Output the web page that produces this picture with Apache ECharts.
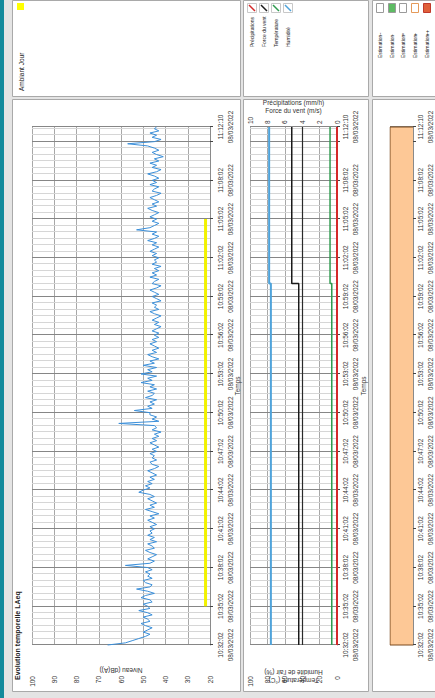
<!DOCTYPE html>
<html>
<head>
<meta charset="utf-8">
<script src="https://cdn.jsdelivr.net/npm/echarts@6/dist/echarts.min.js"></script>
<style>
  html, body { margin: 0; padding: 0; width: 435px; height: 698px; overflow: hidden; background: #e4e4e4; }
  /* the dashboard is laid out in landscape and turned a quarter turn */
  #board { position: absolute; left: 0; top: 0; width: 698px; height: 435px;
           transform-origin: 0 0; transform: translate(0, 698px) rotate(-90deg); }
</style>
</head>
<body>
<div id="board"></div>
<script>
// ---- time base -------------------------------------------------------
const DAY = '08/03/2022';
const T0 = 10 * 3600 + 32 * 60 + 2;     // 10:32:02
const T_END = 2408;                      // 11:12:10, seconds after T0
const LAEQ_STEP = 10;                    // LAeq sampling step (s)
const TICK_STEP = 180;                   // one grid line every 3 min
const labelSeconds = [0, 180, 360, 540, 720, 900, 1080, 1260, 1440, 1620, 1800, 1980, 2160, 2408];

// ---- LAeq, dB(A), one value every 10 s from 10:32:02, last at 11:12:10 --
const laeqDb = [
  66, 58, 55, 52, 49, 47, 50, 48, 46, 49, 51, 47, 48, 50, 46, 48, 52, 47,
  48, 50, 46, 47, 51, 49, 45, 48, 53, 47, 46, 49, 50, 46, 48, 47, 49, 46,
  48, 58, 47, 45, 48, 46, 44, 47, 49, 45, 46, 48, 44, 47, 45, 48, 46, 47,
  45, 47, 44, 46, 48, 45, 47, 43, 46, 49, 45, 47, 44, 46, 48, 45, 47, 52,
  50, 47, 49, 46, 48, 45, 47, 44, 46, 48, 45, 43, 46, 47, 44, 46, 45, 47,
  44, 46, 43, 45, 47, 44, 46, 43, 45, 42, 46, 44, 45, 61, 43, 46, 44, 47,
  47, 54, 46, 48, 45, 47, 44, 49, 46, 45, 48, 44, 47, 45, 51, 46, 48, 44,
  51, 46, 48, 44, 50, 45, 47, 43, 46, 48, 44, 46, 43, 45, 47, 44, 46, 43,
  45, 43, 46, 44, 42, 45, 43, 46, 44, 42, 45, 47, 43, 45, 44, 46, 42, 44,
  46, 43, 45, 47, 44, 42, 46, 45, 43, 47, 44, 46, 43, 45, 42, 46, 44, 45,
  43, 46, 44, 47, 45, 43, 46, 44, 48, 45, 43, 46, 44, 53, 47, 45, 43, 46,
  44, 47, 45, 43, 46, 48, 44, 46, 43, 45, 47, 44, 42, 46, 45, 43, 47, 44,
  46, 43, 45, 48, 44, 42, 46, 44, 47, 43, 45, 41, 44, 46, 43, 45, 48, 57,
  45, 42, 46, 44, 47, 43, 45,
  44
];
// "Ambiant Jour" period marker
const jourPeriod = [180, 1980];
const jourLevel = 22;

// ---- weather, sampled at changes ------------------------------------
const meteoSeconds = [0, 1680, 2408];
const precipitations = [0, 0, 0];        // mm/h
const forceVent = [4.4, 5.2, 5.2];       // m/s
const temperature = [6, 8, 8];           // °C
const humidite = [76, 78, 78];           // %
const ventReference = 4;                 // m/s, dark reference line

// ---- estimation band ------------------------------------------------
const estimationSeconds = [0, 0, 2408, 2408];
const estimationLevel = [0, 1, 1, 0];

// ---- helpers --------------------------------------------------------
const FONT = 'Liberation Sans, Arial, sans-serif';
const pad = n => String(n).padStart(2, '0');
function clock(sec) {
  const s = T0 + Math.round(sec);
  return pad(Math.floor(s / 3600)) + ':' + pad(Math.floor(s % 3600 / 60)) + ':' + pad(s % 60);
}
const zip = (xs, ys) => xs.map((x, i) => [x, ys[i]]);
const laeqPoints = laeqDb.map((v, i) => [i === laeqDb.length - 1 ? T_END : i * LAEQ_STEP, v]);

function timeAxis(gridIndex, labelMargin, nameGap) {
  return {
    type: 'value', gridIndex, min: 0, max: T_END, interval: TICK_STEP,
    axisLine: { show: true, lineStyle: { color: '#8a8a8a', width: 1 } },
    axisTick: { show: true, length: 3, lineStyle: { color: '#444' } },
    axisLabel: {
      customValues: labelSeconds,
      formatter: v => clock(v) + '\n' + DAY,
      fontSize: 6.5, fontFamily: FONT, color: '#333', lineHeight: 10, margin: labelMargin
    },
    splitLine: { show: true, lineStyle: { color: '#868686', width: 1 } },
    minorTick: { show: false, splitNumber: 6 },
    minorSplitLine: { show: true, lineStyle: { color: '#d6d6d6', width: 1 } },
    name: nameGap ? 'Temps' : '', nameLocation: 'middle', nameGap: nameGap || 0, nameMoveOverlap: false,
    nameTextStyle: { fontSize: 6.5, fontFamily: FONT, color: '#333' }
  };
}
function valueAxis(gridIndex, opts) {
  return Object.assign({
    type: 'value', gridIndex,
    axisLine: { show: false }, axisTick: { show: false },
    axisLabel: { fontSize: 6.5, fontFamily: FONT, color: '#333' },
    splitLine: { show: true, lineStyle: { color: '#a8a8a8', width: 1 } },
    nameLocation: 'middle', nameMoveOverlap: false,
    nameTextStyle: { fontSize: 6.5, fontFamily: FONT, color: '#333', lineHeight: 8 }
  }, opts);
}

// ---- panels and legends (drawn as graphics) --------------------------
const panel = (x, y, w, h) => ({
  type: 'rect', z: -10, silent: true,
  shape: { x: x + 0.5, y: y + 0.5, width: w, height: h },
  style: { fill: '#ffffff', stroke: '#a9a9a9', lineWidth: 1 }
});
const label = (x, y, text, extra) => ({
  type: 'text', z: 50, silent: true, x, y,
  style: Object.assign({ text, fontSize: 6.5, fontFamily: FONT, fill: '#222', verticalAlign: 'middle' }, extra || {})
});
const meteoLegend = [
  ['Précipitations', '#d42a2a', 252],
  ['Force du vent', '#1a1a1a', 264],
  ['Température', '#2f9a4f', 276],
  ['Humidité', '#4fa3da', 288]
];
const estimationLegend = [
  ['--', '#ffffff', '#9a9a9a', 380],
  ['-', '#5dbb63', '#9a9a9a', 392],
  ['=', '#ffffff', '#9a9a9a', 403],
  ['+', '#ffffff', '#e59a5a', 415],
  ['++', '#e0603a', '#c0392b', 427]
];
const graphics = [
  { type: 'rect', z: -20, silent: true, shape: { x: 0, y: 0, width: 698, height: 4 }, style: { fill: '#138a9c' } },
  panel(6, 12, 592, 228), panel(601, 12, 96, 228),
  panel(6, 243, 592, 125), panel(601, 243, 96, 125),
  panel(6, 372, 592, 70), panel(601, 372, 96, 70),
  label(18, 17, 'Evolution temporelle LAeq', { fontWeight: 'bold', fontSize: 7 }),
  label(607, 21, 'Ambiant Jour'),
  { type: 'rect', z: 50, silent: true, shape: { x: 688, y: 17, width: 7, height: 7 }, style: { fill: '#ffff00' } }
];
meteoLegend.forEach(([name, color, y]) => {
  graphics.push(label(651, y, name, { fontSize: 5 }));
  graphics.push({ type: 'rect', z: 49, silent: true, shape: { x: 685.5, y: y - 4.5, width: 9, height: 9 }, style: { fill: '#fff', stroke: '#c8c8c8' } });
  graphics.push({ type: 'line', z: 50, silent: true, shape: { x1: 687, y1: y + 3, x2: 693, y2: y - 3 }, style: { stroke: color, lineWidth: 1.5 } });
});
estimationLegend.forEach(([grade, fill, stroke, y]) => {
  graphics.push(label(640, y, 'Estimation', { fontSize: 5 }));
  graphics.push(label(662, y, grade, { fontSize: 5 }));
  graphics.push({ type: 'rect', z: 50, silent: true, shape: { x: 685.5, y: y - 3.5, width: 9, height: 7 }, style: { fill, stroke, lineWidth: 1 } });
});

// ---- chart ----------------------------------------------------------
const chart = echarts.init(document.getElementById('board'), null, { renderer: 'svg', width: 698, height: 435 });
chart.setOption({
  animation: false,
  backgroundColor: '#e4e4e4',
  graphic: graphics,
  grid: [
    { left: 53, top: 32, width: 518, height: 178 },
    { left: 53, top: 250, width: 518, height: 87 },
    { left: 53, top: 390, width: 518, height: 25 }
  ],
  xAxis: [timeAxis(0, 5, 24), timeAxis(1, 3, 23), timeAxis(2, 2, 0)],
  yAxis: [
    valueAxis(0, { min: 20, max: 100, interval: 10, name: 'Niveau (dB(A))', nameGap: 21,
                   axisLabel: { fontSize: 6.5, fontFamily: FONT, color: '#333', margin: 31 } }),
    valueAxis(1, { min: 0, max: 100, interval: 20, name: 'Température (°C)\nHumidité de l\'air (%)', nameGap: 23,
                   axisLabel: { fontSize: 6.5, fontFamily: FONT, color: '#333', margin: 31 } }),
    valueAxis(1, { min: 0, max: 10, interval: 2, position: 'right', splitLine: { show: false },
                   name: 'Précipitations (mm/h)\nForce du vent (m/s)', nameGap: 13, nameRotate: -90,
                   axisLabel: { fontSize: 6.5, fontFamily: FONT, color: '#333', margin: 3 } }),
    valueAxis(2, { min: 0, max: 1, show: false, splitLine: { show: false } })
  ],
  series: [
    { name: 'LAeq', type: 'line', xAxisIndex: 0, yAxisIndex: 0, data: laeqPoints, showSymbol: false,
      lineStyle: { color: '#3b8fd9', width: 1 }, z: 5 },
    { name: 'Ambiant Jour', type: 'line', xAxisIndex: 0, yAxisIndex: 0, showSymbol: false,
      data: jourPeriod.map(s => [s, jourLevel]), lineStyle: { color: '#f2f200', width: 3 }, z: 4 },
    { name: 'Humidité', type: 'line', step: 'end', xAxisIndex: 1, yAxisIndex: 1, showSymbol: false,
      data: zip(meteoSeconds, humidite), lineStyle: { color: '#4fa3da', width: 2 } },
    { name: 'Température', type: 'line', step: 'end', xAxisIndex: 1, yAxisIndex: 1, showSymbol: false,
      data: zip(meteoSeconds, temperature), lineStyle: { color: '#2f9a4f', width: 1.5 } },
    { name: 'Force du vent', type: 'line', step: 'end', xAxisIndex: 1, yAxisIndex: 2, showSymbol: false,
      data: zip(meteoSeconds, forceVent), lineStyle: { color: '#1a1a1a', width: 1.5 },
      markLine: { silent: true, symbol: 'none', label: { show: false },
                  lineStyle: { color: '#2a2a2a', width: 1.2, type: 'solid' },
                  data: [{ yAxis: ventReference }] } },
    { name: 'Précipitations', type: 'line', step: 'end', xAxisIndex: 1, yAxisIndex: 2, showSymbol: false,
      data: zip(meteoSeconds, precipitations), lineStyle: { color: '#d42a2a', width: 2 } },
    { name: 'Estimation', type: 'line', xAxisIndex: 2, yAxisIndex: 3, showSymbol: false,
      data: zip(estimationSeconds, estimationLevel),
      lineStyle: { color: '#7a4a1f', width: 1 }, areaStyle: { color: '#fdc896', opacity: 1 } }
  ]
});
</script>
</body>
</html>
